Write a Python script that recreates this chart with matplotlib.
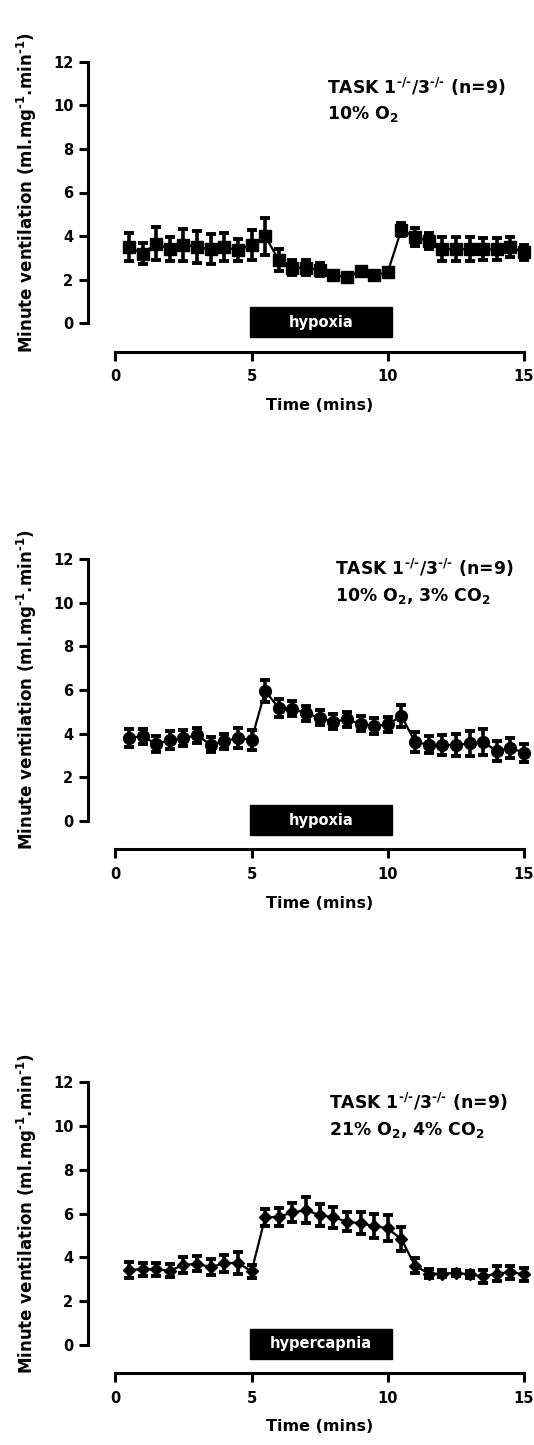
import matplotlib
matplotlib.use("Agg")
import matplotlib.pyplot as plt
from matplotlib.patches import Rectangle

plt.rcParams['font.family'] = ['DejaVu Sans']
plt.rcParams['font.weight'] = 'bold'
plt.rcParams['mathtext.fontset'] = 'dejavusans'
plt.rcParams['mathtext.default'] = 'bf'

time = [0.5, 1.0, 1.5, 2.0, 2.5, 3.0, 3.5, 4.0, 4.5, 5.0,
        5.5, 6.0, 6.5, 7.0, 7.5, 8.0, 8.5, 9.0, 9.5, 10.0,
        10.5, 11.0, 11.5, 12.0, 12.5, 13.0, 13.5, 14.0, 14.5, 15.0]

p1_mean = [3.50, 3.20, 3.65, 3.40, 3.60, 3.50, 3.40, 3.50, 3.35, 3.60,
           4.00, 2.90, 2.55, 2.55, 2.45, 2.20, 2.12, 2.40, 2.20, 2.35,
           4.30, 3.95, 3.78, 3.40, 3.40, 3.40, 3.40, 3.40, 3.50, 3.25]
p1_sem = [0.65, 0.50, 0.75, 0.55, 0.72, 0.72, 0.68, 0.62, 0.50, 0.70,
          0.85, 0.50, 0.35, 0.35, 0.30, 0.20, 0.20, 0.20, 0.20, 0.20,
          0.30, 0.40, 0.35, 0.55, 0.55, 0.55, 0.50, 0.50, 0.45, 0.35]

p2_mean = [3.80, 3.88, 3.53, 3.70, 3.80, 3.92, 3.50, 3.65, 3.80, 3.72,
           5.95, 5.18, 5.15, 4.93, 4.73, 4.55, 4.65, 4.45, 4.35, 4.42,
           4.82, 3.62, 3.50, 3.48, 3.48, 3.55, 3.62, 3.20, 3.35, 3.12]
p2_sem = [0.40, 0.35, 0.35, 0.40, 0.35, 0.35, 0.35, 0.35, 0.45, 0.45,
          0.50, 0.40, 0.35, 0.35, 0.35, 0.35, 0.35, 0.35, 0.35, 0.35,
          0.50, 0.45, 0.40, 0.45, 0.50, 0.55, 0.60, 0.45, 0.45, 0.40]

p3_mean = [3.42, 3.45, 3.45, 3.38, 3.65, 3.70, 3.55, 3.72, 3.75, 3.35,
           5.82, 5.85, 6.05, 6.15, 5.93, 5.82, 5.63, 5.55, 5.43, 5.32,
           4.82, 3.62, 3.25, 3.25, 3.28, 3.22, 3.12, 3.25, 3.32, 3.22]
p3_sem = [0.35, 0.30, 0.30, 0.30, 0.35, 0.35, 0.35, 0.40, 0.50, 0.30,
          0.40, 0.40, 0.45, 0.60, 0.50, 0.50, 0.45, 0.50, 0.55, 0.60,
          0.55, 0.35, 0.20, 0.15, 0.15, 0.15, 0.30, 0.35, 0.30, 0.30]

panel_means = [p1_mean, p2_mean, p3_mean]
panel_sems = [p1_sem, p2_sem, p3_sem]
panel_markers = ['s', 'o', 'D']
panel_msizes = [8.5, 8.5, 6.5]
panel_line1 = r"TASK 1$^{\text{-/-}}$/3$^{\text{-/-}}$ (n=9)"
panel_line2 = [r"10% O$_2$", r"10% O$_2$, 3% CO$_2$", r"21% O$_2$, 4% CO$_2$"]
stim_labels = ['hypoxia', 'hypoxia', 'hypercapnia']
stim_start = 4.95
stim_end = 10.15

yticks = [0, 2, 4, 6, 8, 10, 12]
xticks = [0, 5, 10, 15]
ylabel = r"Minute ventilation (ml.mg$^{\text{-1}}$.min$^{\text{-1}}$)"
xlabel = "Time (mins)"

W, H = 534, 1445
fig = plt.figure(figsize=(W / 100, H / 100), dpi=100)

# axes boxes in pixels: (left, top(12), right, bottom(0))
boxes = [(115.3, 61.7, 524.0, 323.3),
         (115.3, 559.0, 524.0, 821.0),
         (115.3, 1082.3, 524.0, 1344.7)]
text_pos = [(0.518, 0.905, 0.800), (0.538, 0.965, 0.860), (0.523, 0.927, 0.820)]

for i in range(3):
    l, t, r, b = boxes[i]
    ax = fig.add_axes([l / W, (H - b) / H, (r - l) / W, (b - t) / H])
    ax.set_xlim(0, 15)
    ax.set_ylim(0, 12)
    ax.errorbar(time, panel_means[i], yerr=panel_sems[i], color='black',
                marker=panel_markers[i], markersize=panel_msizes[i],
                linewidth=1.6, elinewidth=2.6, capsize=3.9, capthick=2.8,
                clip_on=False, zorder=3)
    for s in ['top', 'right']:
        ax.spines[s].set_visible(False)
    ax.spines['left'].set_position(('outward', 19.7))
    ax.spines['bottom'].set_position(('outward', 20.5))
    ax.spines['left'].set_bounds(0, 12)
    ax.spines['bottom'].set_bounds(0, 15)
    for s in ['left', 'bottom']:
        ax.spines[s].set_linewidth(2.2)
    ax.set_yticks(yticks)
    ax.set_xticks(xticks)
    ax.tick_params(width=2.2, length=6.5, labelsize=10.5)
    ax.tick_params(axis='x', pad=6)
    ax.tick_params(axis='y', pad=4)
    for lab in ax.get_xticklabels() + ax.get_yticklabels():
        lab.set_fontweight('bold')
    ax.set_ylabel(ylabel, fontsize=12, fontweight='bold', labelpad=10)
    ax.set_xlabel(xlabel, fontsize=11.5, fontweight='bold', labelpad=10)
    ax.patch.set_visible(False)

    rect = Rectangle((stim_start, -0.65), stim_end - stim_start, 1.38,
                     facecolor='black', edgecolor='black', clip_on=False, zorder=2)
    ax.add_patch(rect)
    ax.text((stim_start + stim_end) / 2, 0.04, stim_labels[i], color='white',
            fontsize=10.5, fontweight='bold', ha='center', va='center', zorder=4)

    tx, ty1, ty2 = text_pos[i]
    ax.text(tx, ty1, panel_line1, transform=ax.transAxes, fontsize=12.4,
            fontweight='bold', ha='left', va='center')
    ax.text(tx, ty2, panel_line2[i], transform=ax.transAxes, fontsize=12.4,
            fontweight='bold', ha='left', va='center')

fig.savefig('out.png', dpi=100)
